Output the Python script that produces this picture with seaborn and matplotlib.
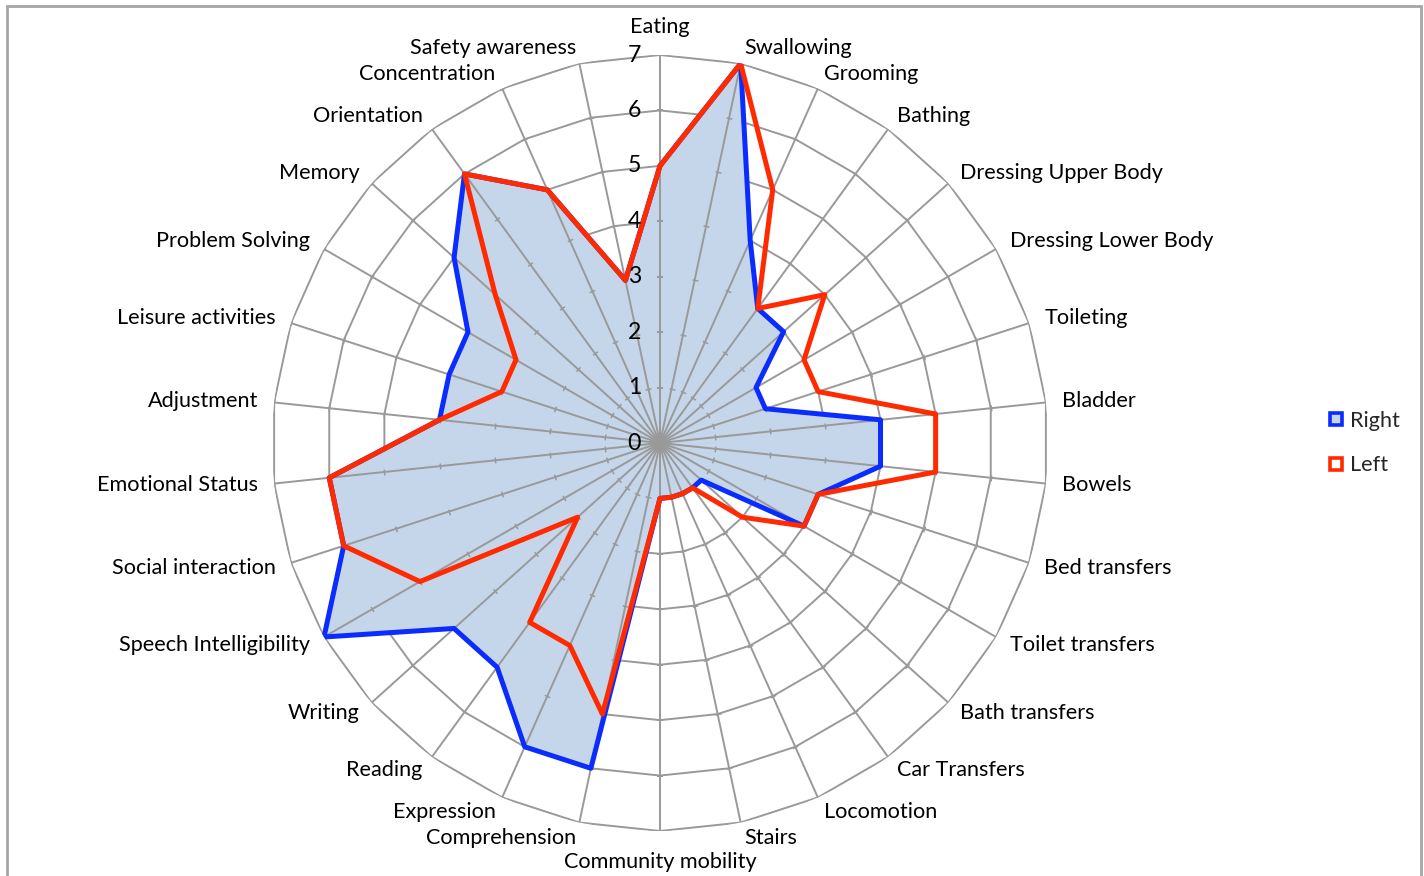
import numpy as np
import matplotlib
matplotlib.use("Agg")
import matplotlib.pyplot as plt
import seaborn as sns
from matplotlib.lines import Line2D
from matplotlib.patches import Rectangle

# FIM-style scores, clockwise from the top
categories = [
    "Eating", "Swallowing", "Grooming", "Bathing", "Dressing Upper Body",
    "Dressing Lower Body", "Toileting", "Bladder", "Bowels", "Bed transfers",
    "Toilet transfers", "Bath transfers", "Car Transfers", "Locomotion", "Stairs",
    "Community mobility", "Comprehension", "Expression", "Reading", "Writing",
    "Speech Intelligibility", "Social interaction", "Emotional Status", "Adjustment",
    "Leisure activities", "Problem Solving", "Memory", "Orientation",
    "Concentration", "Safety awareness",
]
right_side = [5, 7, 4, 3, 3, 2, 2, 4, 4, 3, 3, 1, 1, 1, 1,
              1, 6, 6, 5, 5, 7, 6, 6, 4, 4, 4, 5, 6, 5, 3]
left_side = [5, 7, 5, 3, 4, 3, 3, 5, 5, 3, 3, 2, 1, 1, 1,
             1, 5, 4, 4, 2, 5, 6, 6, 4, 3, 3, 4, 6, 5, 3]
r_ticks = [0, 1, 2, 3, 4, 5, 6, 7]
series_names = ["Right", "Left"]

sns.set_theme(style="white")
plt.rcParams["font.family"] = ["Lato", "DejaVu Sans"]

BLUE = "#0a2cff"
RED = "#ff2a00"
FILL = "#c5d6ea"
GRID = "#999999"
FS = 15.6

n = len(categories)
theta = np.linspace(0, 2 * np.pi, n, endpoint=False)
theta_c = np.append(theta, theta[0])
rmax = r_ticks[-1]

fig = plt.figure(figsize=(14.24, 8.76), dpi=100)
ax = fig.add_axes([272 / 1424, 45 / 876, 776 / 1424, 776 / 876], projection="polar")
ax.set_theta_zero_location("N")
ax.set_theta_direction(-1)
ax.set_ylim(0, rmax)
ax.grid(False)
ax.set_xticks([])
ax.set_yticks([])
ax.spines["polar"].set_visible(False)
ax.patch.set_alpha(0)

# polygon rings (hidden under the fill), spokes on top of the fill
for r in r_ticks[1:]:
    ax.plot(theta_c, [r] * (n + 1), color=GRID, lw=1.4, zorder=1)
ax.fill(theta, right_side, color=FILL, zorder=2, lw=0)
ax.vlines(theta, 0, rmax, colors=GRID, lw=1.4, zorder=3)
for t in theta:
    rot = 90 - np.degrees(t)
    ax.scatter([t] * (len(r_ticks) - 1), r_ticks[1:], marker=(2, 0, rot),
               s=18, color=GRID, linewidths=1.1, zorder=3)

right_c = np.append(right_side, right_side[0])
left_c = np.append(left_side, left_side[0])
sns.lineplot(x=theta_c, y=right_c, sort=False, estimator=None, ax=ax,
             color=BLUE, lw=3.6, zorder=4, legend=False)
sns.lineplot(x=theta_c, y=left_c, sort=False, estimator=None, ax=ax,
             color=RED, lw=3.6, zorder=5, legend=False)
ax.set_xlabel("")
ax.set_ylabel("")

# radial value labels along the top spoke
for v in r_ticks:
    ax.annotate(str(v), xy=(0, v), xytext=(-19, 0), textcoords="offset pixels",
                ha="right", va="center", fontsize=FS + 1, color="black", zorder=6)

# category labels
for t, lab in zip(theta, categories):
    deg = np.degrees(t)
    if np.isclose(deg, 0):
        ha, va, off = "center", "bottom", (0, 18)
    elif np.isclose(deg, 180):
        ha, va, off = "center", "top", (0, -21)
    else:
        ha = "left" if deg < 180 else "right"
        va = "center"
        off = (16 * np.sin(t), 16 * np.cos(t))
    ax.annotate(lab, xy=(t, rmax), xytext=off, textcoords="offset pixels",
                ha=ha, va=va, fontsize=FS, color="black", annotation_clip=False)

handles = [
    Line2D([], [], marker="s", linestyle="none", markersize=9,
           markerfacecolor=FILL, markeredgecolor=BLUE, markeredgewidth=2.6),
    Line2D([], [], marker="s", linestyle="none", markersize=9,
           markerfacecolor="white", markeredgecolor=RED, markeredgewidth=2.6),
]
fig.legend(handles, series_names, loc="center left",
           bbox_to_anchor=(1308 / 1424, 1 - 443 / 876), frameon=False,
           fontsize=FS, handlelength=0.8, handletextpad=0.25, labelspacing=1.15)

fig.add_artist(Rectangle((7 / 1424, -0.05), (1421 - 7) / 1424, 0.993 + 0.05,
                         transform=fig.transFigure, fill=False,
                         edgecolor="#a6a6a6", lw=2, clip_on=False))

fig.savefig("out.png", dpi=100)
